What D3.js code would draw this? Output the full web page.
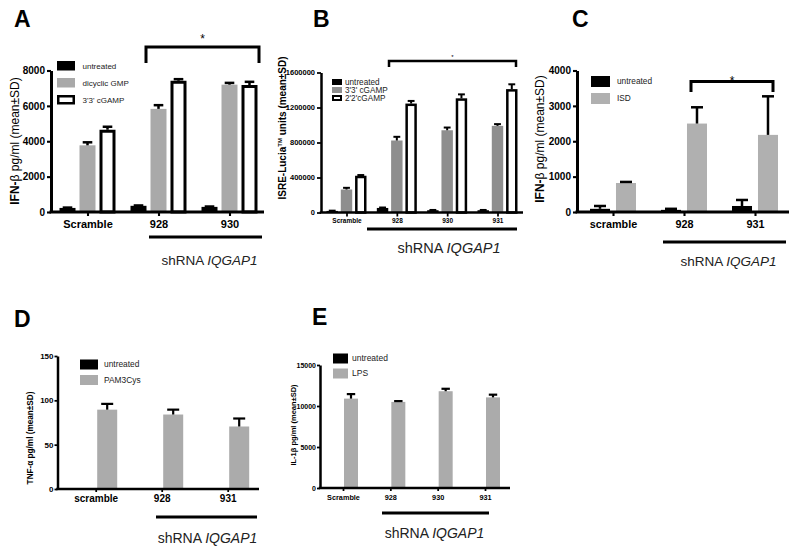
<!DOCTYPE html>
<html>
<head>
<meta charset="utf-8">
<script src="https://cdn.jsdelivr.net/npm/d3@7"></script>
<style>
  body { margin: 0; background: #fff; }
  svg { display: block; font-family: "Liberation Sans", Arial, sans-serif; }
</style>
</head>
<body>
<svg id="chart" width="800" height="546"></svg>
<script>
// ---- data ----

// A: IFN-b after cyclic dinucleotides
const groupsA = ["Scramble", "928", "930"];
const seriesA = ["untreated", "dicyclic GMP", "3'3' cGAMP"];
const meansA = [[230, 350, 290], [3770, 5830, 7200], [4650, 7420, 7180]];
const sdsA = [[20, 20, 20], [170, 210, 100], [170, 90, 180]];
const ticksA = [0, 2000, 4000, 6000, 8000];

// B: ISRE-Lucia reporter
const groupsB = ["Scramble", "928", "930", "931"];
const seriesB = ["untreated", "3'3' cGAMP", "2'2'cGAMP"];
const meansB = [[18000, 52000, 26000, 26000], [263000, 823000, 940000, 990000], [420000, 1245000, 1305000, 1410000]];
const sdsB = [[3000, 5000, 3000, 3000], [19000, 42000, 31000, 20000], [8000, 30000, 45000, 55000]];
const ticksB = [0, 400000, 800000, 1200000, 1600000];

// C: IFN-b after ISD
const groupsC = ["scramble", "928", "931"];
const seriesC = ["untreated", "ISD"];
const meansC = [[90, 60, 170], [820, 2500, 2180]];
const sdsC = [[80, 30, 170], [30, 460, 1090]];
const ticksC = [0, 1000, 2000, 3000, 4000];

// D: TNF-a after PAM3Cys
const groupsD = ["scramble", "928", "931"];
const seriesD = ["untreated", "PAM3Cys"];
const meansD = [[0, 0, 0], [89.5, 84, 70.5]];
const sdsD = [[0, 0, 0], [6.5, 5.5, 9]];
const ticksD = [0, 50, 100, 150];

// E: IL-1b after LPS
const groupsE = ["Scramble", "928", "930", "931"];
const seriesE = ["untreated", "LPS"];
const meansE = [[0, 0, 0, 0], [10900, 10500, 11800, 11050]];
const sdsE = [[0, 0, 0, 0], [550, 100, 300, 330]];
const ticksE = [0, 5000, 10000, 15000];

const svg = d3.select("#chart");

function drawPanel(p) {
    const g = svg.append("g");
    const y = d3.scaleLinear()
        .domain([0, p.ticks[p.ticks.length - 1]])
        .range([p.bottom, p.top]);
    const x = d3.scalePoint().domain(p.groups).range(p.centers);
    const xs = d3.scaleBand().domain(p.series).range([-p.inner / 2, p.inner / 2]).paddingInner(p.pad);
    const bw = xs.bandwidth();

    // bars
    p.series.forEach((s, si) => {
        const rows = p.groups.map((gr, gi) => ({ gr, v: p.means[si][gi], e: p.sds[si][gi] }));
        const st = p.styles[si];
        const sw = st.stroke ? st.sw : 0;
        g.append("g").selectAll("rect")
            .data(rows.filter(d => d.v > 0))
            .join("rect")
            .attr("x", d => x(d.gr) + xs(s) + sw / 2)
            .attr("width", bw - sw)
            .attr("y", d => y(d.v) + sw / 2)
            .attr("height", d => Math.max(0, y(0) - y(d.v) - sw / 2))
            .attr("fill", st.fill)
            .attr("stroke", st.stroke || "none")
            .attr("stroke-width", sw);

        // upper error bars
        const eb = g.append("g").selectAll("g")
            .data(rows.filter(d => d.e > 0))
            .join("g")
            .attr("stroke", "#000")
            .attr("stroke-width", p.ew);
        eb.append("line")
            .attr("x1", d => x(d.gr) + xs(s) + bw / 2)
            .attr("x2", d => x(d.gr) + xs(s) + bw / 2)
            .attr("y1", d => y(d.v))
            .attr("y2", d => y(d.v + d.e));
        eb.append("line")
            .attr("x1", d => x(d.gr) + xs(s) + bw / 2 - bw * 0.3)
            .attr("x2", d => x(d.gr) + xs(s) + bw / 2 + bw * 0.3)
            .attr("y1", d => y(d.v + d.e))
            .attr("y2", d => y(d.v + d.e));
    });

    // y axis
    const ya = g.append("g")
        .attr("transform", `translate(${p.axisX},0)`)
        .call(d3.axisLeft(y).tickValues(p.ticks).tickSize(p.tick).tickSizeOuter(0)
            .tickPadding(p.tickPad).tickFormat(d3.format("d")));
    ya.select(".domain").attr("stroke-width", p.aw);
    ya.selectAll(".tick line").attr("stroke-width", p.aw * 0.7);
    ya.selectAll("text").attr("font-size", p.yFont).attr("font-weight", "bold")
        .attr("font-family", "Liberation Sans, Arial, sans-serif").attr("fill", "#000");

    // x axis
    const xa = g.append("g")
        .attr("transform", `translate(0,${p.bottom})`)
        .call(d3.axisBottom(x).tickSize(p.tick).tickPadding(p.xPad));
    xa.select(".domain").remove();
    xa.selectAll(".tick line").attr("stroke-width", p.aw * 0.7);
    xa.selectAll("text").attr("font-size", p.xFont).attr("font-weight", "bold")
        .attr("font-family", "Liberation Sans, Arial, sans-serif").attr("fill", "#000");
    g.append("line")
        .attr("x1", p.axisX - p.aw / 2).attr("x2", p.xEnd)
        .attr("y1", p.bottom).attr("y2", p.bottom)
        .attr("stroke", "#000").attr("stroke-width", p.aw);

    // y label
    g.append("text")
        .attr("transform", `translate(${p.labelX},${p.labelY}) rotate(-90)`)
        .attr("text-anchor", "middle")
        .attr("font-size", p.labelFont)
        .attr("font-weight", p.labelWeight)
        .attr("fill", "#000")
        .html(p.label);

    // legend
    p.series.forEach((s, si) => {
        const st = p.styles[si];
        const ry = p.leg.y + si * p.leg.step;
        const sw = st.stroke ? p.leg.sw : 0;
        g.append("rect")
            .attr("x", p.leg.x + sw / 2).attr("y", ry + sw / 2)
            .attr("width", p.leg.w - sw).attr("height", p.leg.h - sw)
            .attr("fill", st.fill)
            .attr("stroke", st.stroke || "none")
            .attr("stroke-width", sw);
        g.append("text")
            .attr("x", p.leg.tx).attr("y", ry + p.leg.h / 2)
            .attr("dy", "0.35em")
            .attr("font-size", p.leg.font)
            .attr("fill", "#222")
            .text(s);
    });

    // significance bracket
    if (p.br) {
        g.append("path")
            .attr("d", `M${p.br.x1},${p.br.y2}V${p.br.y}H${p.br.x2}V${p.br.y2}`)
            .attr("fill", "none").attr("stroke", "#000").attr("stroke-width", p.br.w);
        g.append("text")
            .attr("x", (p.br.x1 + p.br.x2) / 2).attr("y", p.br.sy)
            .attr("text-anchor", "middle").attr("font-size", p.br.sf)
            .attr("fill", "#000")
            .text("*");
    }

    // shRNA underline + label
    g.append("line")
        .attr("x1", p.ul.x1).attr("x2", p.ul.x2)
        .attr("y1", p.ul.y).attr("y2", p.ul.y)
        .attr("stroke", "#000").attr("stroke-width", 3);
    const t = g.append("text")
        .attr("x", (p.ul.x1 + p.ul.x2) / 2 + p.ul.dx).attr("y", p.ul.ty)
        .attr("text-anchor", "middle")
        .attr("font-size", p.ul.font)
        .attr("fill", "#222");
    t.append("tspan").text("shRNA ");
    t.append("tspan").attr("font-style", "italic").text("IQGAP1");

    // panel letter
    svg.append("text")
        .attr("x", p.letterX).attr("y", p.letterY)
        .attr("font-size", 23).attr("font-weight", "bold")
        .attr("fill", "#000")
        .text(p.letter);
}

const black = { fill: "#000" };
const white = { fill: "#fff", stroke: "#000" };

drawPanel({
    letter: "A", letterX: 14, letterY: 27,
    groups: groupsA, series: seriesA, means: meansA, sds: sdsA, ticks: ticksA,
    styles: [black, { fill: "#a9a9a9" }, { ...white, sw: 3 }],
    top: 70.5, bottom: 212, centers: [87.5, 229.5], inner: 56, pad: 0.2,
    axisX: 51, xEnd: 264, aw: 3, ew: 2.5, tick: 4, tickPad: 2, yFont: 10,
    xPad: 4, xFont: 11,
    label: "<tspan font-weight='bold'>IFN-</tspan>β pg/ml (mean±SD)",
    labelX: 19, labelY: 141, labelFont: 12, labelWeight: "normal",
    leg: { x: 57, y: 61, w: 18, h: 9.5, step: 17, sw: 2.5, tx: 82.5, font: 8 },
    br: { x1: 146, x2: 259, y: 47, y2: 63, w: 3, sy: 43, sf: 12 },
    ul: { x1: 149, x2: 262, y: 237, ty: 265, font: 13.5, dx: 4 }
});

drawPanel({
    letter: "B", letterX: 313, letterY: 27,
    groups: groupsB, series: seriesB, means: meansB, sds: sdsB, ticks: ticksB,
    styles: [black, { fill: "#8e8e8e" }, { ...white, sw: 2.5 }],
    top: 72.5, bottom: 212.5, centers: [346.5, 497.5], inner: 40, pad: 0.2,
    axisX: 321, xEnd: 523, aw: 2.5, ew: 2, tick: 4, tickPad: 2, yFont: 7.5,
    xPad: 2, xFont: 6.5,
    label: "ISRE-Lucia<tspan font-size='6' dy='-4'>TM</tspan><tspan dy='4'> units (mean±SD)</tspan>",
    labelX: 286, labelY: 128, labelFont: 10, labelWeight: "bold",
    leg: { x: 332, y: 79, w: 10, h: 6, step: 8, sw: 2, tx: 345, font: 8.2 },
    br: { x1: 389, x2: 516, y: 61, y2: 67, w: 2.5, sy: 59, sf: 6 },
    ul: { x1: 367, x2: 517, y: 229, ty: 253, font: 14.5, dx: 7 }
});

drawPanel({
    letter: "C", letterX: 572, letterY: 27,
    groups: groupsC, series: seriesC, means: meansC, sds: sdsC, ticks: ticksC,
    styles: [black, { fill: "#b0b0b0" }],
    top: 70.5, bottom: 212, centers: [613, 755], inner: 46, pad: 0.23,
    axisX: 577, xEnd: 789, aw: 3, ew: 2.5, tick: 4, tickPad: 2, yFont: 10,
    xPad: 4.5, xFont: 10.8,
    label: "<tspan font-weight='bold'>IFN-</tspan>β pg/ml (mean±SD)",
    labelX: 544, labelY: 139, labelFont: 12, labelWeight: "normal",
    leg: { x: 591, y: 76, w: 19, h: 11, step: 17, sw: 0, tx: 617, font: 8.3 },
    br: { x1: 691, x2: 773, y: 81.5, y2: 92, w: 3, sy: 85, sf: 12 },
    ul: { x1: 663, x2: 786, y: 242, ty: 266, font: 13.5, dx: 4 }
});

drawPanel({
    letter: "D", letterX: 14, letterY: 327,
    groups: groupsD, series: seriesD, means: meansD, sds: sdsD, ticks: ticksD,
    styles: [black, { fill: "#ababab" }],
    top: 356, bottom: 489, centers: [95.7, 227.7], inner: 43, pad: 0.13,
    axisX: 57.5, xEnd: 259, aw: 2.5, ew: 2.2, tick: 3, tickPad: 1, yFont: 8,
    xPad: 3, xFont: 10,
    label: "TNF-α pg/ml (mean±SD)",
    labelX: 33, labelY: 438, labelFont: 8.2, labelWeight: "bold",
    leg: { x: 80, y: 359.5, w: 18, h: 10, step: 15.5, sw: 0, tx: 104, font: 8.4 },
    br: null,
    ul: { x1: 156, x2: 257, y: 517, ty: 543, font: 14, dx: 1 }
});

drawPanel({
    letter: "E", letterX: 312, letterY: 325,
    groups: groupsE, series: seriesE, means: meansE, sds: sdsE, ticks: ticksE,
    styles: [black, { fill: "#ababab" }],
    top: 365, bottom: 488, centers: [343, 485], inner: 30, pad: 0.125,
    axisX: 320, xEnd: 510, aw: 2.5, ew: 2.2, tick: 3, tickPad: 1, yFont: 7,
    xPad: 3.5, xFont: 7.3,
    label: "IL-1β pg/ml (mean±SD)",
    labelX: 296, labelY: 425, labelFont: 7.5, labelWeight: "bold",
    leg: { x: 333, y: 353.5, w: 15, h: 10, step: 15, sw: 0, tx: 352, font: 8.5 },
    br: null,
    ul: { x1: 382, x2: 489, y: 513, ty: 538, font: 14, dx: -1 }
});
</script>
</body>
</html>
